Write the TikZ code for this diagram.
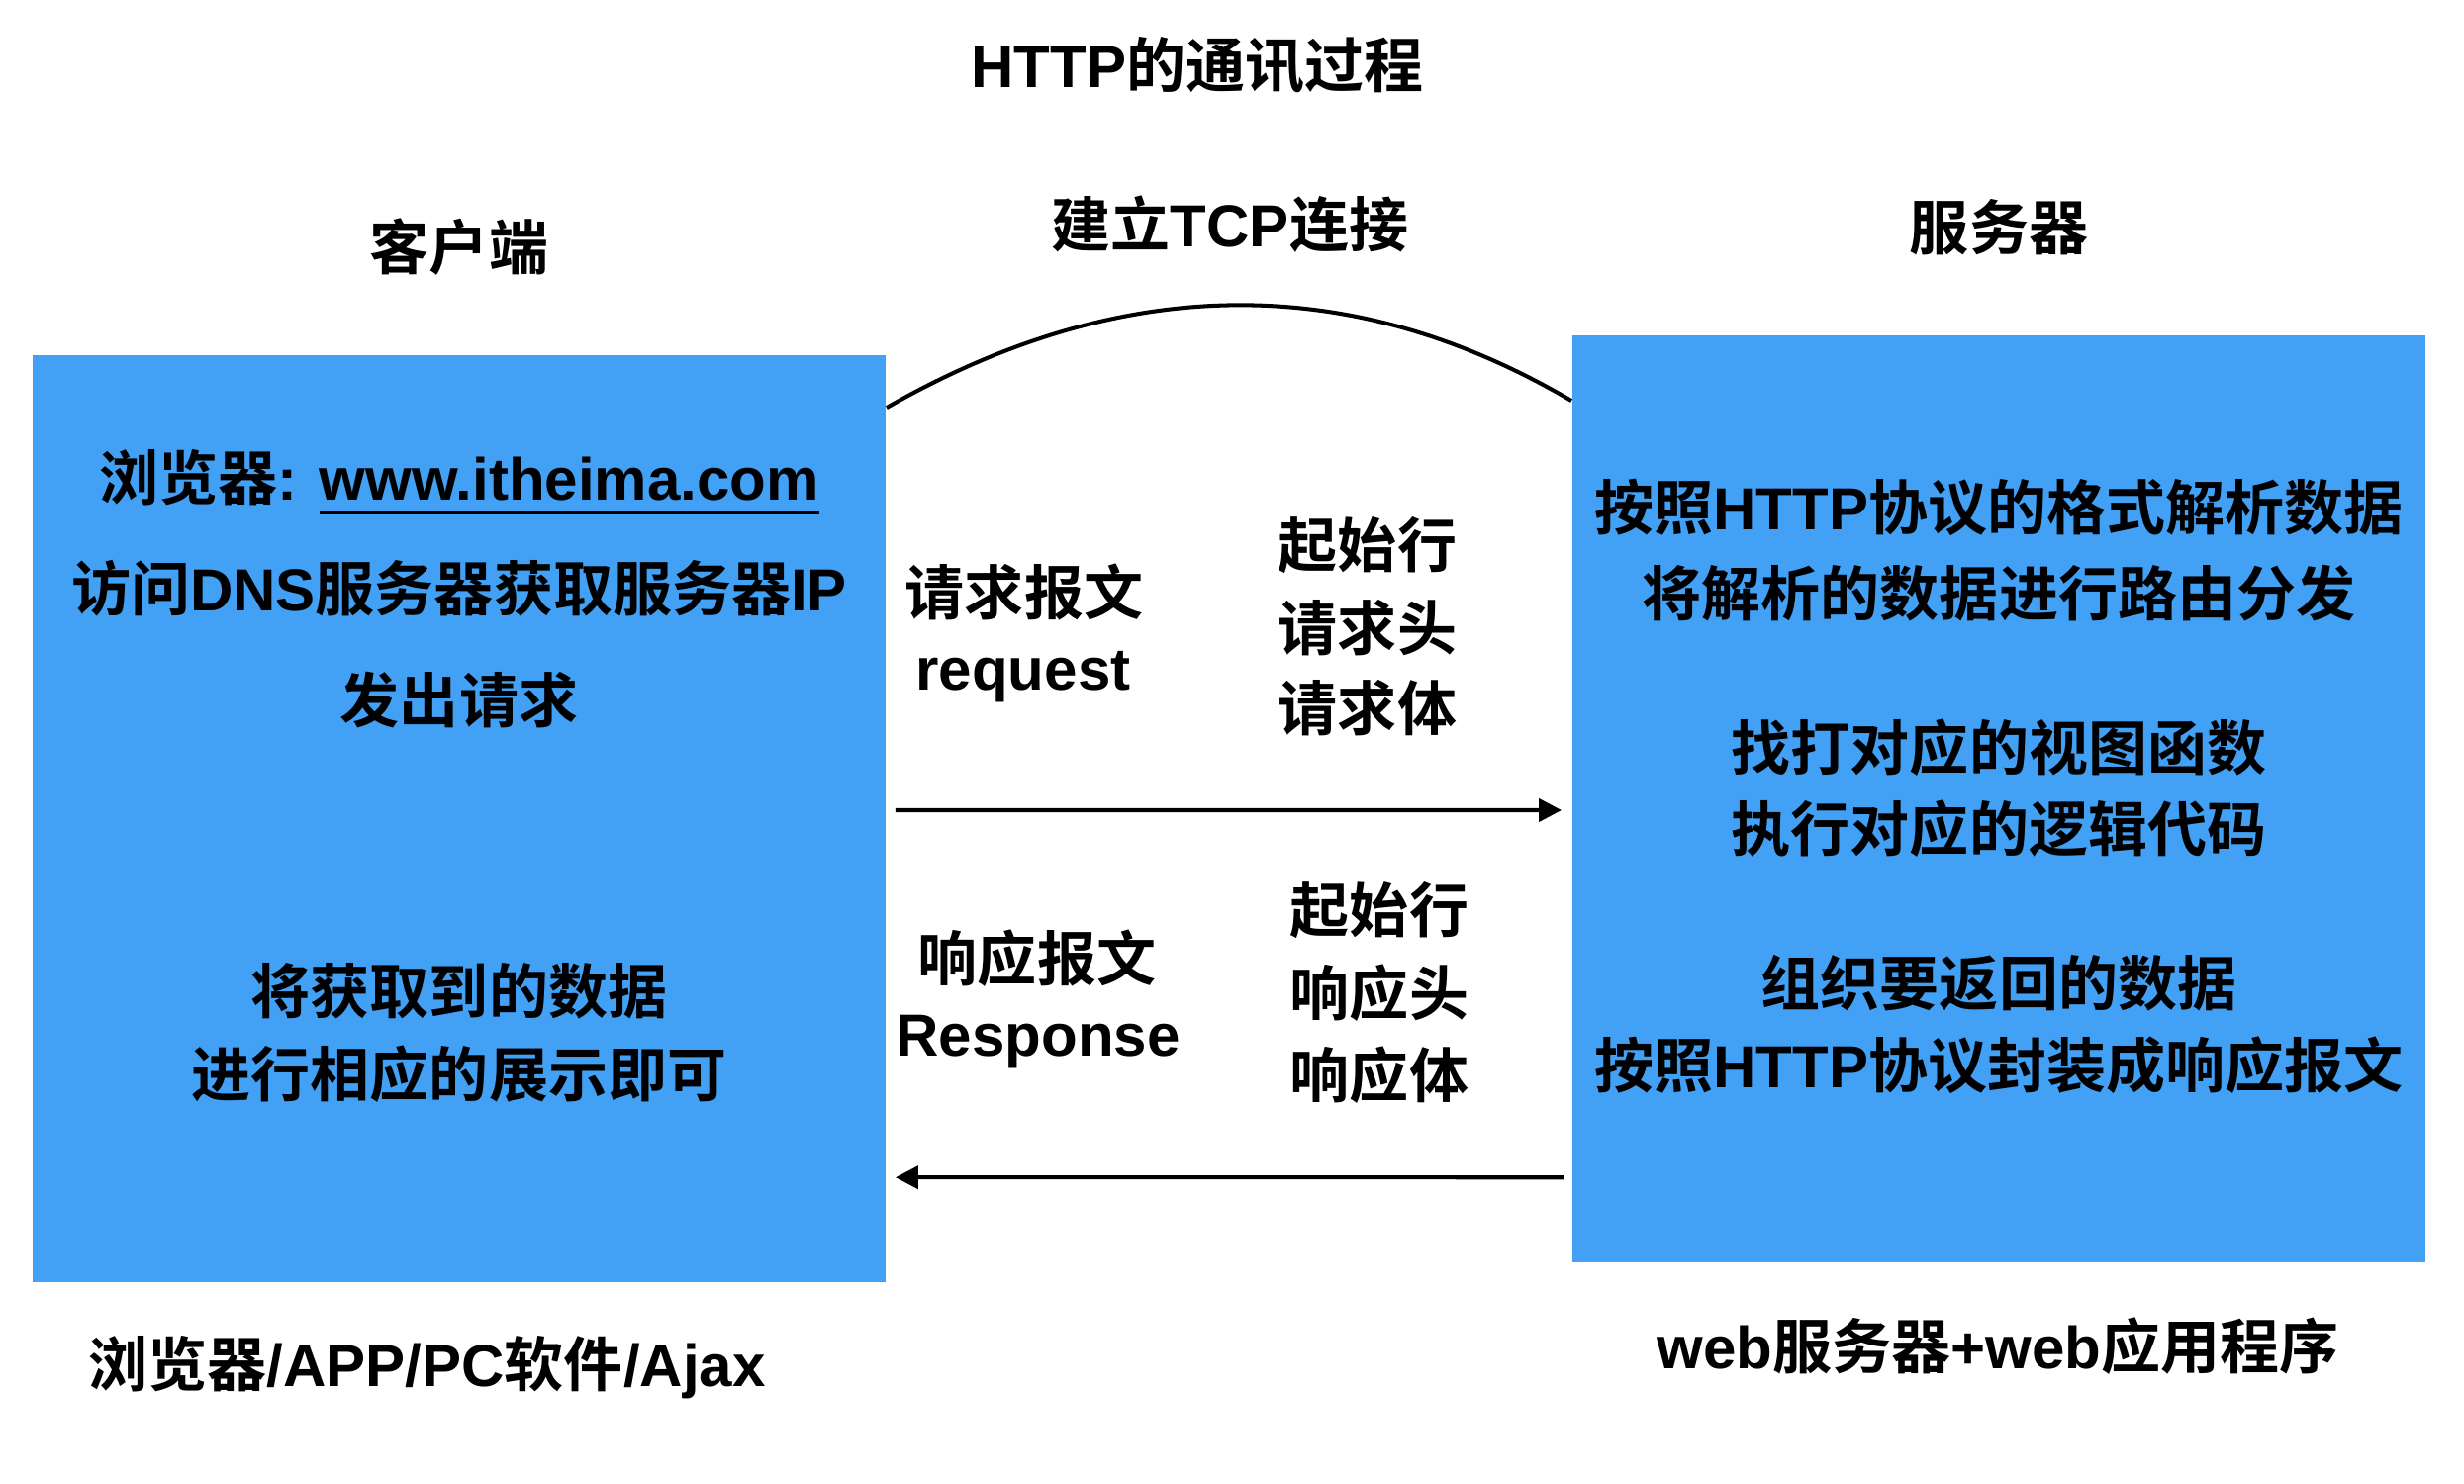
\documentclass[tikz,border=0pt]{standalone}
\usepackage{fontspec}
\setmainfont{Liberation Sans}[BoldFont={Liberation Sans Bold}]
\newfontfamily\latb{Liberation Sans Bold}
\newfontfamily\cjk{Noto Sans CJK SC Bold}
\usetikzlibrary{arrows.meta}
\newcommand\zh[1]{{\cjk #1}}
\newcommand\myul[1]{\sbox0{#1}\rlap{\rule[-0.145cm]{\wd0}{0.03cm}}\box0}
\definecolor{boxblue}{RGB}{66,160,245}
\begin{document}
\begin{tikzpicture}[x=0.01cm,y=-0.01cm,
  txt/.style={font=\latb\fontsize{17.07}{20}\selectfont, inner sep=0pt, anchor=base},
  titletxt/.style={txt},
  bluebox/.style={fill=boxblue, draw=none, minimum width=8.62cm, minimum height=9.37cm, inner sep=0pt},
  conn/.style={line width=1.15pt, black},
  arr/.style={conn, -{Triangle[length=0.23cm,width=0.23cm]}}]
\useasboundingbox (0,0) rectangle (2490,1500);
% boxes
\node[bluebox] (client) at (464,827.5) {};
\node[bluebox] (server) at (2020,807.5) {};
% headings
\node[titletxt] (title) at (1210,89) {HTTP\zh{的通讯过程}};
\node[txt] (tcp) at (1243,250) {\zh{建立}TCP\zh{连接}};
\node[txt] (clientlbl) at (464,272) {\zh{客户端}};
\node[txt] (serverlbl) at (2020,253) {\zh{服务器}};
% client box text
\node[txt] (c1) at (464,505) {\zh{浏览器}: \myul{www.itheima.com}};
\node[txt] (c2) at (464,617) {\zh{访问}DNS\zh{服务器获取服务器}IP};
\node[txt] (c3) at (464,730) {\zh{发出请求}};
\node[txt] (c4) at (464,1024) {\zh{将获取到的数据}};
\node[txt] (c5) at (464,1108) {\zh{进行相应的展示即可}};
% server box text
\node[txt] (s1) at (2020,535) {\zh{按照}HTTP\zh{协议的格式解析数据}};
\node[txt] (s2) at (2020,622) {\zh{将解析的数据进行路由分发}};
\node[txt] (s3) at (2020,778) {\zh{找打对应的视图函数}};
\node[txt] (s4) at (2020,860) {\zh{执行对应的逻辑代码}};
\node[txt] (s5) at (2020,1016) {\zh{组织要返回的数据}};
\node[txt] (s6) at (2020,1099) {\zh{按照}HTTP\zh{协议封装成响应报文}};
% footers
\node[txt, anchor=base west] (clientfoot) at (89,1401) {\zh{浏览器}/APP/PC\zh{软件}/Ajax};
\node[txt] (serverfoot) at (2019,1383) {web\zh{服务器}+web\zh{应用程序}};
% request labels
\node[txt] (rq1) at (1035,621) {\zh{请求报文}};
\node[txt] (rq2) at (1034,697) {request};
\node[txt] (rqa) at (1382,573) {\zh{起始行}};
\node[txt] (rqb) at (1382,657) {\zh{请求头}};
\node[txt] (rqc) at (1382,738) {\zh{请求体}};
% response labels
\node[txt] (rs1) at (1048,991) {\zh{响应报文}};
\node[txt] (rs2) at (1049,1067) {Response};
\node[txt] (rsa) at (1394,942) {\zh{起始行}};
\node[txt] (rsb) at (1394,1026) {\zh{响应头}};
\node[txt] (rsc) at (1394,1109) {\zh{响应体}};
% connectors
\draw[conn] ([yshift=-0.54cm]client.north east) .. controls (1134,276) and (1365,274) .. ([yshift=-0.67cm]server.north west);
\draw[arr] ([xshift=0.09cm,yshift=0.085cm]client.east) -- ([xshift=-0.1cm,yshift=-0.115cm]server.west);
\draw[arr] ([xshift=-0.08cm,yshift=-3.825cm]server.west) -- ([xshift=0.09cm,yshift=-3.625cm]client.east);
\end{tikzpicture}
\end{document}
